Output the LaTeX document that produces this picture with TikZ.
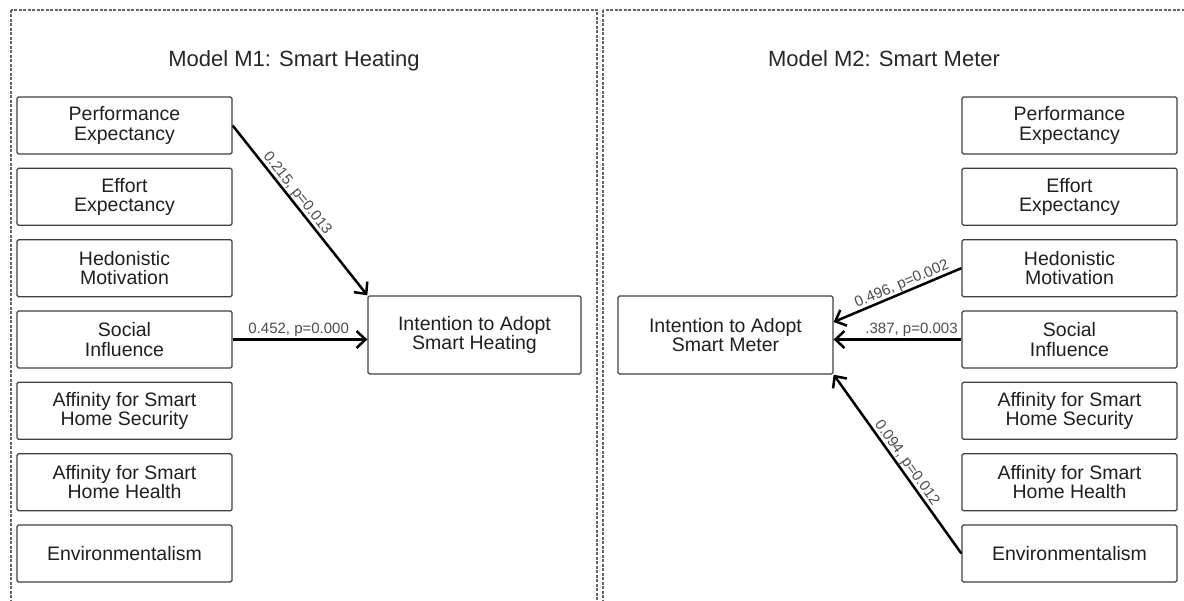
\documentclass[tikz,border=0pt]{standalone}
\usepackage{fontspec}
\setmainfont{Liberation Sans}
\usetikzlibrary{arrows.meta,calc}
\begin{document}
\begin{tikzpicture}[x=1pt,y=-1pt,
  panel/.style={draw=black!60, line width=2pt, dash pattern=on 3pt off 1.5pt},
  fbox/.style={draw=black!75, line width=1.3pt, rounded corners=1.5pt, minimum width=215pt, minimum height=57pt, align=center, font=\fontsize{19.5}{19.5}\selectfont, text=black!88, inner sep=0pt},
  tbox/.style={fbox, minimum height=78pt},
  title/.style={font=\fontsize{22}{24}\selectfont, text=black!85, anchor=base},
  arr/.style={line width=2.5pt, -{Straight Barb[length=9pt,width=17pt]}},
  lbl/.style={font=\fontsize{15}{16}\selectfont, text=black!70, inner sep=1.5pt},
  slbl/.style={lbl, sloped, above, inner sep=0pt}
]
\useasboundingbox (0,0) rectangle (1184,601);
\begin{scope}
\clip (0,0) rectangle (1184,601);
\draw[panel] (11,10) rectangle (597,640);
\draw[panel] (603,10) rectangle (1220,640);
\end{scope}

\node[title] (t1) at (294,67) {Model M1: Smart Heating};
\node[title] (t2) at (884,67) {Model M2: Smart Meter};

% left column
\node[fbox] (pe) at (124.5,125.5) {Performance\\Expectancy};
\node[fbox] (ee) at (124.5,196.8) {Effort\\Expectancy};
\node[fbox] (hm) at (124.5,268.2) {Hedonistic\\Motivation};
\node[fbox] (si) at (124.5,339.5) {Social\\Influence};
\node[fbox] (as) at (124.5,410.8) {Affinity for Smart\\Home Security};
\node[fbox] (ah) at (124.5,482.2) {Affinity for Smart\\Home Health};
\node[fbox] (en) at (124.5,553.5) {Environmentalism};
\node[tbox, minimum width=213pt] (tl) at (474.5,335) {Intention to Adopt\\Smart Heating};

% right column
\node[fbox] (pe2) at (1069.5,125.5) {Performance\\Expectancy};
\node[fbox] (ee2) at (1069.5,196.8) {Effort\\Expectancy};
\node[fbox] (hm2) at (1069.5,268.2) {Hedonistic\\Motivation};
\node[fbox] (si2) at (1069.5,339.5) {Social\\Influence};
\node[fbox] (as2) at (1069.5,410.8) {Affinity for Smart\\Home Security};
\node[fbox] (ah2) at (1069.5,482.2) {Affinity for Smart\\Home Health};
\node[fbox] (en2) at (1069.5,553.5) {Environmentalism};
\node[tbox] (tr) at (725.5,335) {Intention to Adopt\\Smart Meter};

% connectors
\draw[arr] (pe.east) -- node[slbl, pos=0.43] {0.215, p=0.013} (tl.north west);
\draw[arr] (si.east) -- node[lbl, above, pos=0.49] {0.452, p=0.000} (tl.west |- si.east);

\draw[arr] (hm2.west) -- node[slbl, pos=0.44] {0.496, p=0.002} ($(tr.east)+(0,-13)$);
\draw[arr] (si2.west) -- node[lbl, above, pos=0.39] {.387, p=0.003} (tr.east |- si2.west);
\draw[arr] (en2.west) -- node[slbl, pos=0.48] {0.094, p=0.012} (tr.south east);
\end{tikzpicture}
\end{document}
